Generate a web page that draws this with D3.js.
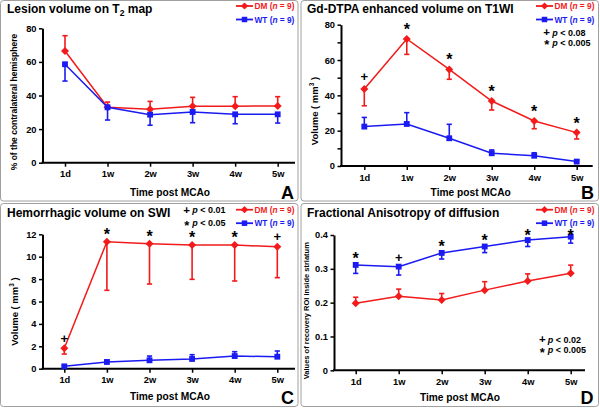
<!DOCTYPE html>
<html><head><meta charset="utf-8">
<script src="https://cdn.jsdelivr.net/npm/d3@7"></script>
<style>
body{margin:0;background:#fff}
svg{display:block;font-family:"Liberation Sans",Arial,sans-serif;font-weight:bold}
</style>
</head><body>
<svg id="c" width="600" height="408"></svg>
<script>
// ---------- data ----------
const categories = ["1d","1w","2w","3w","4w","5w"];

const lesionDM    = [66.5, 33.0, 31.8, 33.6, 33.6, 33.8];
const lesionDMErr = [9.1, 3.1, 4.7, 5.3, 5.7, 5.5];
const lesionWT    = [58.6, 33.0, 28.6, 30.2, 28.8, 28.8];
const lesionWTErr = [10.0, 7.6, 6.3, 6.4, 5.6, 5.2];
const lesionTicks = [0, 20, 40, 60, 80];

const gdDM    = [43.6, 71.9, 54.7, 36.8, 25.5, 18.9];
const gdDMErr = [9.5, 8.7, 5.6, 5.1, 4.4, 3.6];
const gdWT    = [22.3, 23.8, 15.7, 7.2, 5.8, 2.5];
const gdWTErr = [5.2, 6.4, 7.9, 1.9, 1.7, 0.9];
const gdTicks = [0, 20, 40, 60, 80];
const gdMinorTicks = [10, 30, 50, 70];
const gdMarks = ["+", "*", "*", "*", "*", "*"];

const hemDM    = [1.82, 11.34, 11.16, 11.04, 11.04, 10.89];
const hemDMErr = [0.51, 4.34, 3.60, 3.06, 3.21, 2.76];
const hemWT    = [0.21, 0.60, 0.75, 0.87, 1.13, 1.07];
const hemWTErr = [0.10, 0.15, 0.38, 0.38, 0.39, 0.51];
const hemTicks = [0, 2, 4, 6, 8, 10, 12];
const hemMarks = ["+", "*", "*", "*", "*", "+"];

const faDM    = [0.198, 0.219, 0.208, 0.237, 0.264, 0.287];
const faDMErr = [0.018, 0.021, 0.019, 0.025, 0.021, 0.024];
const faWT    = [0.3115, 0.3065, 0.347, 0.366, 0.385, 0.395];
const faWTErr = [0.025, 0.025, 0.018, 0.018, 0.019, 0.019];
const faTicks = [0, 0.1, 0.2, 0.3, 0.4];
const faMarks = ["*", "+", "*", "*", "*", "*"];

const RED = "#f21a1a", BLUE = "#1a1af2";
const FONT = '"Liberation Sans",Arial,sans-serif';

const svg = d3.select("#c");

function drawSeries(g, x, y, vals, errs, dir, color, shape) {
  const line = d3.line().x((d, i) => x(categories[i])).y(d => y(d));
  vals.forEach((v, i) => {
    const cx = x(categories[i]);
    const y1 = y(v), y2 = y(v + dir * errs[i]);
    g.append("line").attr("x1", cx).attr("x2", cx).attr("y1", y1).attr("y2", y2)
      .attr("stroke", color).attr("stroke-width", 1.6);
    g.append("line").attr("x1", cx - 2.6).attr("x2", cx + 2.6).attr("y1", y2).attr("y2", y2)
      .attr("stroke", color).attr("stroke-width", 1.6);
  });
  g.append("path").attr("d", line(vals)).attr("fill", "none")
    .attr("stroke", color).attr("stroke-width", 1.5);
  vals.forEach((v, i) => {
    const cx = x(categories[i]), cy = y(v);
    if (shape === "diamond") {
      g.append("path").attr("d", d3.symbol(d3.symbolSquare, 32)())
        .attr("transform", `translate(${cx},${cy}) rotate(45)`).attr("fill", color);
    } else {
      g.append("path").attr("d", d3.symbol(d3.symbolSquare, 34)())
        .attr("transform", `translate(${cx},${cy})`).attr("fill", color);
    }
  });
}

function legendRow(g, lx, ly, color, shape, name) {
  g.append("line").attr("x1", lx).attr("x2", lx + 17).attr("y1", ly).attr("y2", ly)
    .attr("stroke", color).attr("stroke-width", 1.8);
  if (shape === "diamond")
    g.append("path").attr("d", d3.symbol(d3.symbolSquare, 26)())
      .attr("transform", `translate(${lx + 8.5},${ly}) rotate(45)`).attr("fill", color);
  else
    g.append("path").attr("d", d3.symbol(d3.symbolSquare, 30)())
      .attr("transform", `translate(${lx + 8.5},${ly})`).attr("fill", color);
  const t = g.append("text").attr("x", lx + 18.5).attr("y", ly + 3)
    .attr("font-size", 8.3).attr("fill", color);
  t.append("tspan").text(name + " (");
  t.append("tspan").attr("font-style", "italic").text("n");
  t.append("tspan").text(" = 9)");
}

function pRow(g, sx, ly, sym, label) {
  g.append("text").attr("x", sx).attr("y", sym === "*" ? ly + 6.5 : ly + 3.8)
    .attr("text-anchor", "middle").attr("font-size", sym === "*" ? 13 : 11.5).text(sym);
  const t = g.append("text").attr("x", sx + 5.5).attr("y", ly + 3.2).attr("font-size", 9);
  t.append("tspan").attr("font-style", "italic").text("p");
  t.append("tspan").text(" < " + label);
}

function panel(p) {
  const g = svg.append("g");
  g.append("rect").attr("x", p.bx).attr("y", p.by).attr("width", 297.5).attr("height", p.bh)
    .attr("rx", 3).attr("fill", "none").attr("stroke", "#a0a0a0").attr("stroke-width", 1);

  const x = d3.scalePoint().domain(categories).range([p.xFirst, p.xLast]);
  const y = d3.scaleLinear().domain([0, p.yMax]).range([p.y0, p.yTop]);

  const ya = g.append("g").attr("transform", `translate(${p.ox},0)`)
    .call(d3.axisLeft(y).tickValues(p.ticks).tickFormat(p.fmt).tickSize(3.5).tickSizeOuter(0).tickPadding(2.5));
  if (p.minor) {
    g.append("g").attr("transform", `translate(${p.ox},0)`)
      .call(d3.axisLeft(y).tickValues(p.minor).tickFormat("").tickSize(3.5).tickSizeOuter(0))
      .call(a => a.select(".domain").remove())
      .selectAll("line").attr("stroke-width", 1.5);
  }
  const xa = g.append("g").attr("transform", `translate(0,${p.y0})`)
    .call(d3.axisBottom(x).tickSize(4).tickPadding(4));
  xa.select(".domain").remove();
  g.append("line").attr("x1", p.ox - 1).attr("x2", p.xEnd).attr("y1", p.y0).attr("y2", p.y0)
    .attr("stroke", "#000").attr("stroke-width", 2);
  [ya, xa].forEach(a => {
    a.attr("font-family", FONT).attr("font-size", 9.3).attr("font-weight", "bold");
    a.selectAll(".tick line").attr("stroke-width", 1.5);
    a.selectAll(".tick text").attr("fill", "#000");
  });
  ya.select(".domain").attr("stroke-width", 2);

  drawSeries(g, x, y, p.dm, p.dmErr, p.dmDir, RED, "diamond");
  drawSeries(g, x, y, p.wt, p.wtErr, p.wtDir, BLUE, "square");

  if (p.marks) {
    p.marks.forEach((m, i) => {
      const top = Math.min(y(p.dm[i]), y(p.wt[i]));
      const cy = Math.max(top - p.markGap, p.markMin || 0);
      g.append("text").attr("x", x(categories[i]))
        .attr("y", m === "*" ? cy + 8 : cy + 4.2)
        .attr("text-anchor", "middle").attr("font-size", m === "*" ? 16 : 13).text(m);
    });
  }

  const tt = g.append("text").attr("x", p.tx).attr("y", p.ty).attr("font-size", 12);
  p.title.forEach(part => {
    const s = tt.append("tspan").text(part.t);
    if (part.sub) s.attr("font-size", 8.5).attr("dy", 2.5);
    if (part.after) s.attr("dy", -2.5);
  });

  const yl = g.append("text").attr("transform", `translate(${p.ylx},${p.yly}) rotate(-90)`)
    .attr("text-anchor", "middle").attr("font-size", p.ylSize).attr("dy", "0.35em");
  p.ylabel.forEach(part => {
    const s = yl.append("tspan").text(part.t);
    if (part.sup) s.attr("font-size", 6.5).attr("dy", -3.5);
    if (part.after) s.attr("dy", 3.5);
  });

  g.append("text").attr("x", p.xlx).attr("y", p.xly).attr("text-anchor", "middle")
    .attr("font-size", 10.2).text("Time post MCAo");

  g.append("text").attr("x", p.lx).attr("y", p.ly).attr("text-anchor", "end")
    .attr("font-size", 18).text(p.letter);

  legendRow(g, p.legX, p.legY, RED, "diamond", "DM");
  legendRow(g, p.legX, p.legY + 13.5, BLUE, "square", "WT");

  if (p.pLeg) {
    pRow(g, p.pLeg.x, p.pLeg.y, "+", p.pLeg.plus);
    pRow(g, p.pLeg.x, p.pLeg.y + p.pLeg.dy, "*", p.pLeg.star);
  }
}

const volLabel = [{t: "Volume ( mm"}, {t: "3", sup: true}, {t: " )", after: true}];

panel({
  bx: 0.5, by: 0.5, bh: 200.5,
  ox: 42.5, xEnd: 295, xFirst: 65, xLast: 277.7, y0: 162.7, yTop: 28.3, yMax: 80,
  ticks: lesionTicks, fmt: d3.format("d"),
  dm: lesionDM, dmErr: lesionDMErr, dmDir: 1, wt: lesionWT, wtErr: lesionWTErr, wtDir: -1,
  title: [{t: "Lesion volume on T"}, {t: "2", sub: true}, {t: " map", after: true}], tx: 7, ty: 13,
  ylabel: [{t: "% of the contralateral hemisphere"}], ylx: 14.5, yly: 102, ylSize: 8.5,
  xlx: 170, xly: 195.5, letter: "A", lx: 294, ly: 198.5,
  legX: 236, legY: 6
});

panel({
  bx: 301, by: 0.5, bh: 200.5,
  ox: 341, xEnd: 592.7, xFirst: 364.3, xLast: 576.7, y0: 166, yTop: 24.7, yMax: 80,
  ticks: gdTicks, minor: gdMinorTicks, fmt: d3.format("d"),
  dm: gdDM, dmErr: gdDMErr, dmDir: -1, wt: gdWT, wtErr: gdWTErr, wtDir: 1,
  marks: gdMarks, markGap: 12,
  title: [{t: "Gd-DTPA enhanced volume on T1WI"}], tx: 307, ty: 13,
  ylabel: volLabel, ylx: 314.5, yly: 111, ylSize: 9.5,
  xlx: 470.7, xly: 195.5, letter: "B", lx: 594, ly: 198.5,
  legX: 536, legY: 6,
  pLeg: {x: 546.7, y: 32.3, dy: 10.5, plus: "0.08", star: "0.005"}
});

panel({
  bx: 0.5, by: 203.5, bh: 203,
  ox: 42.5, xEnd: 295, xFirst: 64.3, xLast: 277.3, y0: 368.7, yTop: 234.3, yMax: 12,
  ticks: hemTicks, fmt: d3.format("d"),
  dm: hemDM, dmErr: hemDMErr, dmDir: -1, wt: hemWT, wtErr: hemWTErr, wtDir: 1,
  marks: hemMarks, markGap: 10,
  title: [{t: "Hemorrhagic volume on SWI"}], tx: 7, ty: 217,
  ylabel: volLabel, ylx: 14.5, yly: 311.5, ylSize: 9.5,
  xlx: 170, xly: 399.5, letter: "C", lx: 294, ly: 403.5,
  legX: 236, legY: 209.7,
  pLeg: {x: 186.7, y: 209.7, dy: 13.5, plus: "0.01", star: "0.05"}
});

panel({
  bx: 301, by: 203.5, bh: 203,
  ox: 334, xEnd: 585, xFirst: 355.7, xLast: 570.7, y0: 370.3, yTop: 235, yMax: 0.4,
  ticks: faTicks, fmt: d => d === 0 ? "0" : d3.format(".1f")(d),
  dm: faDM, dmErr: faDMErr, dmDir: 1, wt: faWT, wtErr: faWTErr, wtDir: -1,
  marks: faMarks, markGap: 9, markMin: 233,
  title: [{t: "Fractional Anisotropy of diffusion"}], tx: 307, ty: 217,
  ylabel: [{t: "Values of recovery ROI inside striatum"}], ylx: 306, yly: 310.7, ylSize: 7.5,
  xlx: 460, xly: 401, letter: "D", lx: 593.5, ly: 403.5,
  legX: 536, legY: 209.7,
  pLeg: {x: 542.3, y: 339.5, dy: 10.5, plus: "0.02", star: "0.005"}
});
</script>
</body></html>
